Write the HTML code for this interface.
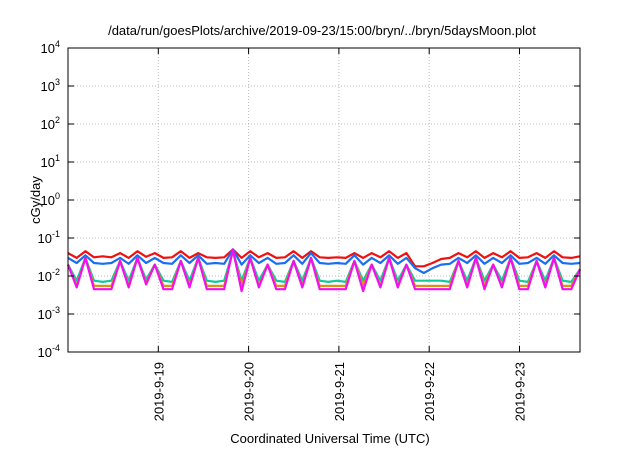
<!DOCTYPE html>
<html><head><meta charset="utf-8"><style>
body{margin:0;background:#fff;}
svg text{font-family:"Liberation Sans",sans-serif;fill:#000;}
</style></head><body>
<svg id="chart" width="640" height="448" viewBox="0 0 640 448">
<text x="322" y="35" font-size="13" text-anchor="middle">/data/run/goesPlots/archive/2019-09-23/15:00/bryn/../bryn/5daysMoon.plot</text>
<text x="330" y="443" font-size="13" text-anchor="middle">Coordinated Universal Time (UTC)</text>
<text transform="translate(40,200) rotate(-90)" font-size="13" text-anchor="middle">cGy/day</text>
<g id="grid"></g><g id="series"></g><g id="axes"></g>
</svg>
<script>
const yExps=[-4,-3,-2,-1,0,1,2,3,4];
const xTickLabels=["2019-9-19","2019-9-20","2019-9-21","2019-9-22","2019-9-23"];
const xTickDays=[1,2,3,4,5];
const seriesNames=["red","blue","teal","orange","magenta"];
const magenta=[0.02,0.005,0.03,0.0045,0.0045,0.0045,0.025,0.005,0.03,0.006,0.02,0.0045,0.0045,0.025,0.005,0.03,0.0045,0.0045,0.0045,0.05,0.004,0.03,0.005,0.02,0.0045,0.0045,0.025,0.005,0.03,0.0045,0.0045,0.0045,0.0045,0.025,0.004,0.02,0.005,0.03,0.005,0.02,0.0045,0.0045,0.0045,0.0045,0.0045,0.025,0.005,0.03,0.0045,0.02,0.005,0.03,0.0045,0.0045,0.025,0.005,0.03,0.0045,0.0045,0.015];
const orange=[0.02,0.0055,0.03,0.0055,0.0055,0.0055,0.025,0.0055,0.03,0.0065,0.02,0.0055,0.0055,0.025,0.0055,0.03,0.0055,0.0055,0.0055,0.045,0.0055,0.03,0.0055,0.02,0.0055,0.0055,0.025,0.0055,0.03,0.0055,0.0055,0.0055,0.0055,0.025,0.0055,0.02,0.0055,0.03,0.0055,0.02,0.0055,0.0055,0.0055,0.0055,0.0055,0.025,0.0055,0.03,0.0055,0.02,0.0055,0.03,0.0055,0.0055,0.025,0.0055,0.03,0.0055,0.0055,0.015];
const teal=[0.02,0.0075,0.03,0.0075,0.007,0.0075,0.025,0.0075,0.03,0.008,0.02,0.0075,0.007,0.025,0.0075,0.03,0.0075,0.007,0.0075,0.045,0.0075,0.03,0.0075,0.02,0.0075,0.007,0.025,0.0075,0.03,0.0075,0.007,0.0075,0.007,0.025,0.0075,0.02,0.0075,0.03,0.0075,0.02,0.0075,0.0075,0.0075,0.0075,0.007,0.025,0.0075,0.03,0.0075,0.02,0.0075,0.03,0.0075,0.007,0.025,0.0075,0.03,0.0075,0.007,0.015];
const blue=[0.03,0.022,0.035,0.022,0.021,0.022,0.03,0.021,0.035,0.022,0.03,0.022,0.021,0.035,0.022,0.035,0.021,0.022,0.021,0.05,0.02,0.035,0.022,0.03,0.021,0.022,0.035,0.021,0.04,0.022,0.021,0.022,0.021,0.035,0.02,0.03,0.022,0.035,0.021,0.03,0.016,0.012,0.016,0.02,0.021,0.03,0.022,0.035,0.021,0.03,0.022,0.035,0.021,0.022,0.03,0.021,0.035,0.022,0.021,0.022];
const red=[0.04,0.03,0.045,0.031,0.033,0.031,0.04,0.03,0.045,0.032,0.04,0.03,0.031,0.045,0.03,0.04,0.031,0.03,0.031,0.05,0.03,0.045,0.031,0.04,0.03,0.031,0.045,0.03,0.045,0.031,0.03,0.031,0.03,0.04,0.03,0.04,0.031,0.045,0.03,0.04,0.018,0.018,0.022,0.028,0.03,0.04,0.031,0.045,0.03,0.04,0.031,0.045,0.03,0.031,0.04,0.03,0.045,0.031,0.03,0.033];
const colors={red:"#f01010",blue:"#1a6ef0",teal:"#10c8a0",orange:"#e09010",magenta:"#f010f0"};
const L=68,R=580,T=48,B=352,dayMax=5.67;
const ns="http://www.w3.org/2000/svg";
function X(d){return L+(R-L)*d/dayMax;}
function Y(v){return B-(Math.log10(v)+4)*(B-T)/8;}
function mk(tag,attrs,parent){const e=document.createElementNS(ns,tag);for(const k in attrs)e.setAttribute(k,attrs[k]);parent.appendChild(e);return e;}
const grid=document.getElementById('grid'),axes=document.getElementById('axes'),sg=document.getElementById('series');
yExps.forEach(p=>{const y=B-(p+4)*(B-T)/8;
 if(p>-4&&p<4){const g=mk('line',{x1:L,x2:R,y1:y,y2:y,stroke:'#bbb','stroke-dasharray':'1,2'},grid);
 
 }
 const t=mk('line',{x1:L,x2:L+6,y1:y,y2:y,stroke:'#000'},axes);
 
 
 const t2=mk('line',{x1:R,x2:R-6,y1:y,y2:y,stroke:'#000'},axes);
 
 
 const tx=mk('text',{x:L-8,y:y+5,'font-size':13,'text-anchor':'end'},axes);
 
 
 tx.innerHTML='10<tspan dy="-6" font-size="9">'+p+'</tspan>';
});
xTickDays.forEach((d,i)=>{const x=X(d);
 const g=mk('line',{x1:x,x2:x,y1:T,y2:B,stroke:'#bbb','stroke-dasharray':'1,2'},grid);
 
 
 const t=mk('line',{x1:x,x2:x,y1:B,y2:B-6,stroke:'#000'},axes);
 
 
 const t2=mk('line',{x1:x,x2:x,y1:T,y2:T+6,stroke:'#000'},axes);
 
 
 const tx=mk('text',{transform:`translate(${x+5},${B+10}) rotate(-90)`,'font-size':13,'text-anchor':'end'},axes);
 
 
 tx.textContent=xTickLabels[i];
});
const frame=mk('rect',{x:L,y:T,width:R-L,height:B-T,fill:'none',stroke:'#000'},axes);


const data={red,blue,teal,orange,magenta};
seriesNames.forEach(n=>{const arr=data[n];const step=dayMax/(arr.length-1);
 const pts=arr.map((v,i)=>X(i*step).toFixed(1)+','+Y(v).toFixed(1)).join(' ');
 const pl=mk('polyline',{points:pts,fill:'none',stroke:colors[n],'stroke-width':2.2,'stroke-linejoin':'round'},sg);
 
 
});
</script>
</body></html>
